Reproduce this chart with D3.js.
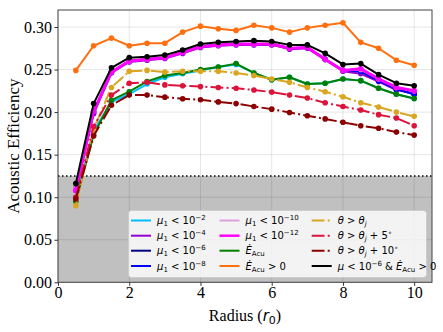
<!DOCTYPE html>
<html>
<head>
<meta charset="utf-8">
<script src="https://cdn.jsdelivr.net/npm/d3@7"></script>
<style>
body { margin: 0; background: #fff; }
</style>
</head>
<body>
<script>
var width = 443;
var height = 332;

// radius samples
var radius = [0.5, 1, 1.5, 2, 2.5, 3, 3.5, 4, 4.5, 5, 5.5, 6, 6.5, 7, 7.5, 8, 8.5, 9, 9.5, 10];

var mu2  = [0.100, 0.178, 0.212, 0.221, 0.233, 0.241, 0.245, 0.249, 0.253, 0.256, 0.246, 0.238, 0.241, 0.233, 0.234, 0.239, 0.237, 0.228, 0.221, 0.216];
var mu4  = [0.108, 0.198, 0.246, 0.259, 0.261, 0.263, 0.269, 0.276, 0.278, 0.279, 0.279, 0.279, 0.274, 0.275, 0.262, 0.248, 0.245, 0.236, 0.226, 0.222];
var mu6  = [0.110, 0.200, 0.247, 0.260, 0.262, 0.264, 0.270, 0.277, 0.279, 0.280, 0.280, 0.280, 0.275, 0.276, 0.262, 0.249, 0.248, 0.237, 0.227, 0.221];
var mu8  = [0.110, 0.200, 0.247, 0.260, 0.262, 0.264, 0.270, 0.277, 0.279, 0.280, 0.280, 0.280, 0.275, 0.276, 0.262, 0.249, 0.248, 0.237, 0.227, 0.221];
var mu10 = [0.110, 0.201, 0.247, 0.260, 0.262, 0.264, 0.270, 0.277, 0.279, 0.280, 0.280, 0.280, 0.275, 0.276, 0.262, 0.249, 0.250, 0.239, 0.229, 0.225];
var mu12 = [0.108, 0.201, 0.247, 0.260, 0.262, 0.264, 0.270, 0.277, 0.279, 0.280, 0.280, 0.280, 0.275, 0.276, 0.262, 0.249, 0.251, 0.239, 0.229, 0.225];
var eAcu = [0.095, 0.173, 0.214, 0.224, 0.236, 0.243, 0.246, 0.250, 0.253, 0.257, 0.246, 0.238, 0.241, 0.233, 0.234, 0.239, 0.237, 0.228, 0.221, 0.216];
var eAcuPos = [0.249, 0.278, 0.287, 0.278, 0.281, 0.281, 0.294, 0.301, 0.298, 0.296, 0.302, 0.299, 0.294, 0.299, 0.302, 0.305, 0.282, 0.275, 0.261, 0.255];
var theta0  = [0.090, 0.180, 0.229, 0.248, 0.249, 0.247, 0.248, 0.248, 0.248, 0.246, 0.243, 0.239, 0.235, 0.229, 0.224, 0.218, 0.211, 0.206, 0.200, 0.195];
var theta5  = [0.100, 0.183, 0.220, 0.234, 0.235, 0.232, 0.231, 0.230, 0.229, 0.228, 0.226, 0.2235, 0.220, 0.2165, 0.211, 0.2066, 0.2024, 0.197, 0.193, 0.184];
var theta10 = [0.098, 0.172, 0.208, 0.220, 0.220, 0.2176, 0.2157, 0.2145, 0.212, 0.210, 0.2066, 0.2035, 0.1996, 0.1957, 0.192, 0.188, 0.184, 0.181, 0.1765, 0.173];
var combo   = [0.116, 0.210, 0.252, 0.264, 0.265, 0.267, 0.273, 0.280, 0.282, 0.283, 0.284, 0.283, 0.279, 0.279, 0.269, 0.256, 0.257, 0.244, 0.234, 0.231];

var xTicks = [0, 2, 4, 6, 8, 10];
var yTicks = [0, 0.05, 0.10, 0.15, 0.20, 0.25, 0.30];
var threshold = 0.125;

// legend labels: segments [text, style]
var series = [
    {values: mu2,  color: "#00bfff", dash: null, w: 2, label: [["μ","i"],["1","sub"],[" < 10",""],["−2","sup"]]},
    {values: mu4,  color: "#9400d3", dash: null, w: 2, label: [["μ","i"],["1","sub"],[" < 10",""],["−4","sup"]]},
    {values: mu6,  color: "#000080", dash: null, w: 2, label: [["μ","i"],["1","sub"],[" < 10",""],["−6","sup"]]},
    {values: mu8,  color: "#0000ff", dash: null, w: 2, label: [["μ","i"],["1","sub"],[" < 10",""],["−8","sup"]]},
    {values: mu10, color: "#dda0dd", dash: null, w: 2, label: [["μ","i"],["1","sub"],[" < 10",""],["−10","sup"]]},
    {values: mu12, color: "#ff00ff", dash: null, w: 3, label: [["μ","i"],["1","sub"],[" < 10",""],["−12","sup"]]},
    {values: eAcu, color: "#008000", dash: null, w: 2, label: [["Ė","i"],["Acu","sub"]]},
    {values: eAcuPos, color: "#ff6f0f", dash: null, w: 2, label: [["Ė","i"],["Acu","sub"],[" > 0",""]]},
    {values: theta0,  color: "#daa520", dash: "12.8,3.2,2,3.2", w: 2, label: [["θ","i"],[" > ",""],["θ","i"],["j","subi"]]},
    {values: theta5,  color: "#dc143c", dash: "12.8,3.2,2,3.2", w: 2, label: [["θ","i"],[" > ",""],["θ","i"],["j","subi"],[" + 5",""],["∘","sup"]]},
    {values: theta10, color: "#8b0000", dash: "12.8,3.2,2,3.2", w: 2, label: [["θ","i"],[" > ",""],["θ","i"],["j","subi"],[" + 10",""],["∘","sup"]]},
    {values: combo,   color: "#000000", dash: null, w: 2, label: [["μ","i"],[" < 10",""],["−6","sup"],[" & ",""],["Ė","i"],["Acu","sub"],[" > 0",""]]}
];

var plot = {left: 58, top: 10, right: 432, bottom: 282.3};

var svg = d3.select("body")
    .append("svg")
    .attr("width", width)
    .attr("height", height);

var x = d3.scaleLinear().domain([0, 10.5]).range([plot.left, plot.right]);
var y = d3.scaleLinear().domain([0, 0.32]).range([plot.bottom, plot.top]);

svg.append("defs").append("clipPath").attr("id", "clip")
    .append("rect")
    .attr("x", plot.left).attr("y", plot.top)
    .attr("width", plot.right - plot.left).attr("height", plot.bottom - plot.top);

// grey region below threshold
svg.append("rect")
    .attr("x", x(0))
    .attr("y", y(threshold))
    .attr("width", x(10.5) - x(0))
    .attr("height", y(0) - y(threshold))
    .attr("fill", "#c0c0c0");

// grid
var grid = svg.append("g");
grid.selectAll(".gx")
    .data(xTicks)
    .enter()
    .append("line")
    .attr("x1", function(d){ return x(d); })
    .attr("x2", function(d){ return x(d); })
    .attr("y1", plot.top)
    .attr("y2", plot.bottom)
    .attr("stroke", "rgba(0,0,0,0.1)")
    .attr("stroke-width", 1);
grid.selectAll(".gy")
    .data(yTicks)
    .enter()
    .append("line")
    .attr("x1", plot.left)
    .attr("x2", plot.right)
    .attr("y1", function(d){ return y(d); })
    .attr("y2", function(d){ return y(d); })
    .attr("stroke", "rgba(0,0,0,0.1)")
    .attr("stroke-width", 1);

// dotted threshold line
svg.append("line")
    .attr("x1", plot.left)
    .attr("x2", plot.right)
    .attr("y1", y(threshold))
    .attr("y2", y(threshold))
    .attr("stroke", "#000")
    .attr("stroke-width", 1.5)
    .attr("stroke-dasharray", "1.5,2.5");

// lines
var line = d3.line()
    .x(function(d, i){ return x(radius[i]); })
    .y(function(d){ return y(d); });

var lines = svg.append("g").attr("clip-path", "url(#clip)");

series.forEach(function(s){
    var g = lines.append("g");
    g.append("path")
        .datum(s.values)
        .attr("d", line)
        .attr("fill", "none")
        .attr("stroke", s.color)
        .attr("stroke-width", s.w)
        .attr("stroke-dasharray", s.dash)
        .attr("stroke-linejoin", "round");
    g.selectAll("circle")
        .data(s.values)
        .enter()
        .append("circle")
        .attr("cx", function(d, i){ return x(radius[i]); })
        .attr("cy", function(d){ return y(d); })
        .attr("r", 2.8)
        .attr("fill", s.color);
});

// spines
svg.append("rect")
    .attr("x", plot.left)
    .attr("y", plot.top)
    .attr("width", plot.right - plot.left)
    .attr("height", plot.bottom - plot.top)
    .attr("fill", "none")
    .attr("stroke", "#444")
    .attr("stroke-width", 1);

// axes
var xAxis = svg.append("g")
    .attr("transform", "translate(0," + plot.bottom + ")")
    .call(d3.axisBottom(x).tickValues(xTicks).tickSize(3.5).tickPadding(0.5).tickFormat(d3.format("d")));
var yAxis = svg.append("g")
    .attr("transform", "translate(" + plot.left + ",0)")
    .call(d3.axisLeft(y).tickValues(yTicks).tickSize(3.5).tickPadding(2.5).tickFormat(d3.format(".2f")));

[xAxis, yAxis].forEach(function(a){
    a.select(".domain").remove();
    a.selectAll("line").attr("stroke", "#333");
    a.selectAll("text")
        .attr("fill", "#000")
        .style("font-family", "'Liberation Serif', serif")
        .style("font-size", "16px");
});

// axis titles
var xTitle = svg.append("text")
    .attr("x", (plot.left + plot.right) / 2)
    .attr("y", 321)
    .attr("text-anchor", "middle")
    .style("font-family", "'Liberation Serif', serif")
    .style("font-size", "16px");
xTitle.append("tspan").text("Radius (");
xTitle.append("tspan").text("r").style("font-family", "'DejaVu Sans', sans-serif").style("font-style", "italic").style("font-size", "15px");
xTitle.append("tspan").text("0").attr("dy", 2.5).style("font-family", "'DejaVu Sans', sans-serif").style("font-size", "11px");
xTitle.append("tspan").text(")").attr("dy", -2.5);

svg.append("text")
    .attr("transform", "translate(19," + ((plot.top + plot.bottom) / 2) + ") rotate(-90)")
    .attr("text-anchor", "middle")
    .style("font-family", "'Liberation Serif', serif")
    .style("font-size", "17px")
    .text("Acoustic Efficiency");

// legend
var legend = svg.append("g");
legend.append("rect")
    .attr("x", 128.5)
    .attr("y", 210.5)
    .attr("width", 298)
    .attr("height", 67)
    .attr("rx", 3)
    .attr("fill", "rgba(255,255,255,0.8)")
    .attr("stroke", "#cccccc")
    .attr("stroke-width", 1);

var colX = [131, 219.5, 311.7];
var rowY = [220.5, 235.7, 250.7, 266];

series.forEach(function(s, i){
    var cx = colX[Math.floor(i / 4)];
    var cy = rowY[i % 4];
    legend.append("line")
        .attr("x1", cx)
        .attr("x2", cx + 20)
        .attr("y1", cy)
        .attr("y2", cy)
        .attr("stroke", s.color)
        .attr("stroke-width", s.w === 3 ? 2.5 : 2)
        .attr("stroke-dasharray", s.dash);
    var t = legend.append("text")
        .attr("x", cx + 26)
        .attr("y", cy + 3.5)
        .style("font-family", "'DejaVu Sans', sans-serif")
        .style("font-size", "10px")
        .attr("fill", "#000");
    var off = 0;
    s.label.forEach(function(seg){
        var target = 0;
        var ts = t.append("tspan").text(seg[0]);
        if (seg[1] === "i") {
            ts.style("font-style", "italic");
        } else if (seg[1] === "sub" || seg[1] === "subi") {
            target = 2;
            ts.style("font-size", "7px");
            if (seg[1] === "subi") ts.style("font-style", "italic");
        } else if (seg[1] === "sup") {
            target = -4;
            ts.style("font-size", "7px");
        }
        if (target !== off) {
            ts.attr("dy", target - off);
            off = target;
        }
    });
});
</script>
</body>
</html>
